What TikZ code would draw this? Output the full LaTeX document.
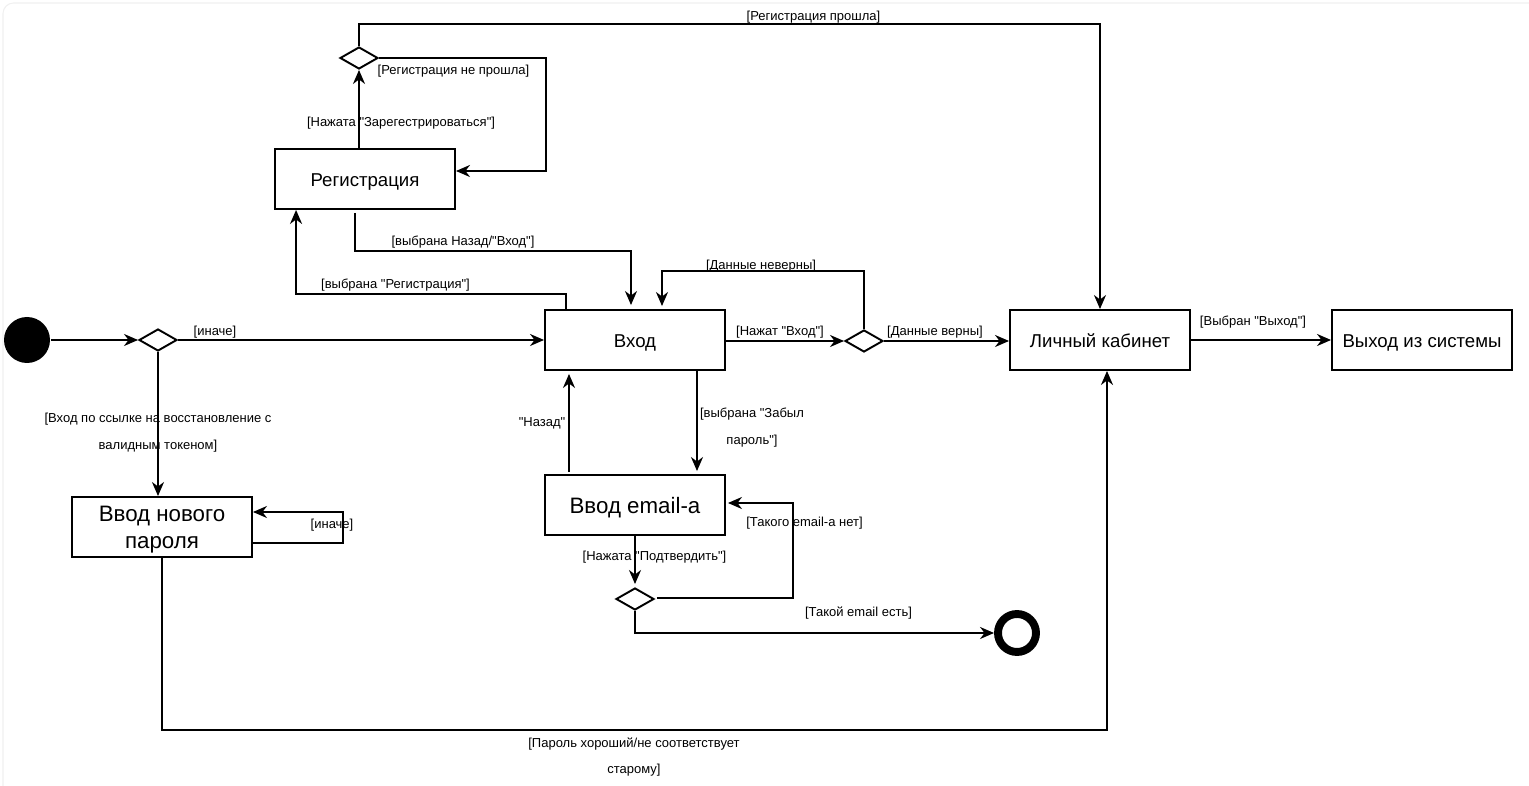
\documentclass[tikz,border=0pt]{standalone}
\usepackage{fontspec}
\setmainfont{Liberation Sans}[Ligatures=TeXOff]
\usetikzlibrary{shapes.geometric,arrows.meta,calc}
\newcommand{\lowtxt}[2]{\raisebox{-#1}[0pt][0pt]{#2}}
\begin{document}
\begin{tikzpicture}[x=0.02cm,y=-0.02cm,
  every path/.style={line width=1.1pt},
  state/.style={draw,line width=1.1pt,minimum width=3.6cm,minimum height=1.2cm,inner sep=0pt,font=\fontsize{10.6pt}{12pt}\selectfont,align=center},
  bigstate/.style={state,font=\fontsize{12.7pt}{15.3pt}\selectfont},
  bigtext/.style={inner sep=0pt,font=\fontsize{12.7pt}{15.3pt}\selectfont,align=center},
  dec/.style={draw,diamond,line width=1.1pt,minimum width=0.76cm,minimum height=0.44cm,inner sep=0pt},
  init/.style={circle,fill=black,minimum size=0.92cm,inner sep=0pt},
  final/.style={circle,draw,line width=4.5pt,minimum size=0.76cm,inner sep=0pt},
  arr/.style={draw,line width=1.1pt,-{Stealth[length=0.28cm,width=0.24cm,inset=0.09cm]}},
  lbl/.style={inner sep=0pt,yshift=-0.04cm,font=\fontsize{7.4pt}{8.5pt}\selectfont,align=center},
  lbl2/.style={lbl,font=\fontsize{7.4pt}{15.3pt}\selectfont}
]
\useasboundingbox (0,0) rectangle (1529,786);
\draw[gray!12,line width=0.6pt,rounded corners=6pt] (3,3) rectangle (1560,820);

% nodes
\node[init] (start) at (27,340) {};
\node[dec] (d1) at (158,340) {};
\node[state] (reg) at (365,179) {\lowtxt{4.3pt}{Регистрация}};
\node[dec] (dtop) at (359,58) {};
\node[state] (vhod) at (635,340) {\lowtxt{4.3pt}{Вход}};
\node[dec] (dr) at (864,341) {};
\node[state] (lk) at (1100,340) {\lowtxt{4.3pt}{Личный кабинет}};
\node[state] (exit) at (1422,340) {\lowtxt{4.3pt}{Выход из системы}};
\node[state] (np) at (162,527) {};
\node[bigtext] (npt) at (162,530) {Ввод нового\\пароля};
\node[bigstate] (em) at (635,505) {\lowtxt{5pt}{Ввод email-a}};
\node[dec] (db) at (635,599) {};
\node[final] (fin) at (1017,633) {};

% connectors
\draw[arr] (start) -- (d1.west);
\draw[arr] (d1.east) -- (vhod.west);
\draw[arr] (d1.south) -- (d1.south |- np.north);
\draw[arr] ($(np.east)+(0,16)$) -- ++(90,0) -- ++(0,-31) -- ($(np.east)+(0,-15)$);
\coordinate (c5) at (1107,730);
\draw[arr] (np.south) |- (c5) -- ($(lk.south)+(7,0)$);
\draw[arr] ($(vhod.north west)+(22,0)$) -- ++(0,-15) -| ($(reg.south west)+(22,0)$);
\draw[arr] ($(reg.south)+(-10,3)$) -- ++(0,38) -| ($(vhod.north)+(-4,-4)$);
\draw[arr] (reg.north -| dtop.south) -- (dtop.south);
\draw[arr] (dtop.east) -| ($(reg.east)+(90,-8)$) -- ($(reg.east)+(0,-8)$);
\draw[arr] (dtop.north) -- ++(0,-22) -| (lk.north);
\draw[arr] (vhod.east |- dr.west) -- (dr.west);
\draw[arr] (dr.north) -- ++(0,-58) -| ($(vhod.north)+(27,-3)$);
\draw[arr] (dr.east) -- (dr.east -| lk.west);
\draw[arr] (lk.east) -- (exit.west);
\draw[arr] ($(vhod.south)+(62,0)$) -- ($(em.north)+(62,-3)$);
\draw[arr] ($(em.north)+(-66,-2)$) -- ($(vhod.south)+(-66,3)$);
\draw[arr] (em.south) -- ($(db.north)+(0,-3)$);
\draw[arr] ($(db.east)+(2,-1)$) -| ($(em.east)+(67,-2)$) -- ($(em.east)+(2,-2)$);
\draw[arr] (db.south) |- (fin.west);

% labels
\node[lbl] (l1) at (215,330) {[иначе]};
\node[lbl2] (l2) at (158,431) {[Вход по ссылке на восстановление с\\валидным токеном]};
\node[lbl] (l3) at (332,523) {[иначе]};
\node[lbl2] (l4) at (634,755) {[Пароль хороший/не соответствует\\старому]};
\node[lbl] (l5) at (395.5,283) {[выбрана "Регистрация"]};
\node[lbl] (l6) at (463,240) {[выбрана Назад/"Вход"]};
\node[lbl] (l7) at (401,121) {[Нажата "Зарегестрироваться"]};
\node[lbl] (l8) at (453.5,69) {[Регистрация не прошла]};
\node[lbl] (l9) at (813.5,15) {[Регистрация прошла]};
\node[lbl] (l10) at (780,330) {[Нажат "Вход"]};
\node[lbl] (l11) at (761,264) {[Данные неверны]};
\node[lbl] (l12) at (935,330) {[Данные верны]};
\node[lbl] (l13) at (1253,320) {[Выбран "Выход"]};
\node[lbl2] (l14) at (752,425.5) {[выбрана "Забыл\\пароль"]};
\node[lbl] (l15) at (542,421) {"Назад"};
\node[lbl] (l16) at (654.5,555) {[Нажата "Подтвердить"]};
\node[lbl] (l17) at (804.5,521) {[Такого email-a нет]};
\node[lbl] (l18) at (858.5,611) {[Такой email есть]};
\end{tikzpicture}
\end{document}
